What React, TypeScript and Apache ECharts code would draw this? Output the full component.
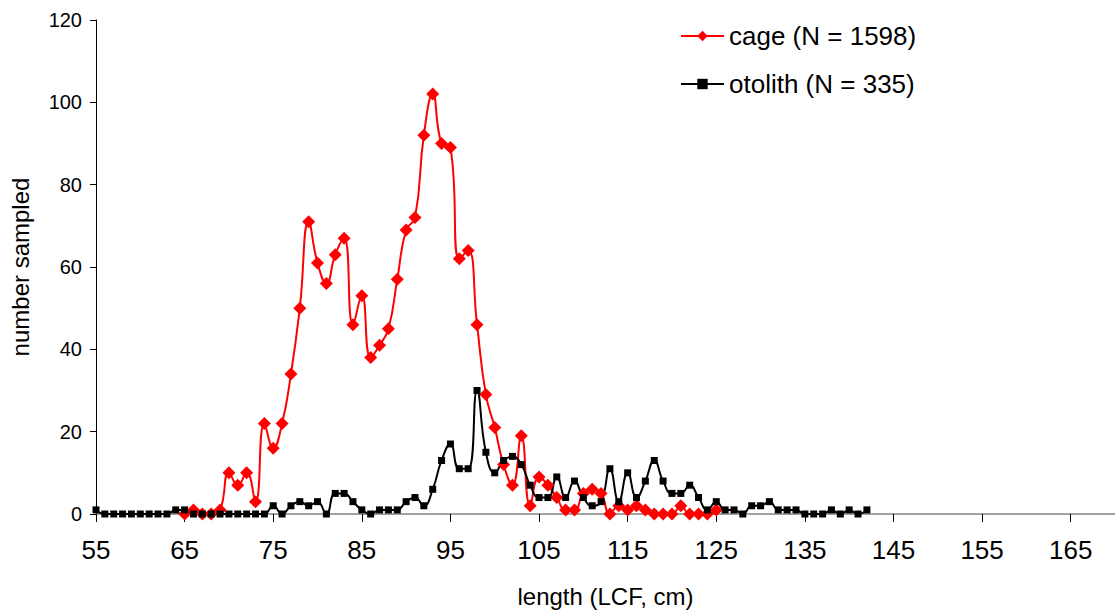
import React, { useEffect, useRef } from "react";
import * as echarts from "echarts";

// Length classes (LCF, cm) on the category axis
const categories: string[] = Array.from({ length: 116 }, (_, i) => String(55 + i));

// cage sample counts, lengths 65..125
const cageStart = 65;
const cageCounts = [
  0, 1, 0, 0, 1,
  10, 7, 10, 3, 22, 16, 22, 34, 50, 71,
  61, 56, 63, 67, 46, 53, 38, 41, 45, 57,
  69, 72, 92, 102, 90, 89, 62, 64, 46, 29,
  21, 12, 7, 19, 2, 9, 7, 4, 1, 1,
  5, 6, 5, 0, 2, 1, 2, 1, 0, 0,
  0, 2, 0, 0, 0, 1,
];

// otolith sample counts, lengths 55..142
const otolithStart = 55;
const otolithCounts = [
  1, 0, 0, 0, 0, 0, 0, 0, 0, 1,
  1, 0, 0, 0, 0, 0, 0, 0, 0, 0,
  2, 0, 2, 3, 2, 3, 0, 5, 5, 3,
  1, 0, 1, 1, 1, 3, 4, 2, 6, 13,
  17, 11, 11, 30, 15, 10, 13, 14, 12, 7,
  4, 4, 9, 4, 8, 4, 2, 3, 11, 3,
  10, 4, 8, 13, 8, 5, 5, 7, 4, 1,
  3, 1, 1, 0, 2, 2, 3, 1, 1, 1,
  0, 0, 0, 1, 0, 1, 0, 1,
];

const cageName = "cage (N = 1598)";
const otolithName = "otolith (N = 335)";
const yTicks = { min: 0, max: 120, step: 20 };

const FONT = "'Liberation Sans', Arial, Helvetica, sans-serif";

export default function App() {
  const ref = useRef<HTMLDivElement>(null);

  useEffect(() => {
    if (!ref.current) return;
    const chart = echarts.init(ref.current, undefined, { renderer: "svg" });

    const cageData = cageCounts.map((v, i) => [String(cageStart + i), v]);
    const otolithData = otolithCounts.map((v, i) => [String(otolithStart + i), v]);

    chart.setOption({
      animation: false,
      backgroundColor: "#ffffff",
      textStyle: { fontFamily: FONT, color: "#000" },
      grid: { left: 96, right: -2, top: 20, bottom: 101, containLabel: false },
      legend: {
        orient: "vertical",
        left: 680,
        top: 22,
        padding: 0,
        itemWidth: 43,
        itemHeight: 13,
        itemGap: 20,
        textStyle: { fontSize: 26, color: "#000", fontFamily: FONT, lineHeight: 28 },
        data: [cageName, otolithName],
      },
      xAxis: {
        type: "category",
        data: categories,
        boundaryGap: false,
        axisLine: { show: true, lineStyle: { color: "#808080", width: 1.5 } },
        axisTick: { show: true, interval: 9, length: 8, lineStyle: { color: "#000", width: 1 } },
        axisLabel: { interval: 9, fontSize: 26, color: "#000", margin: 23, fontFamily: FONT },
        splitLine: { show: false },
        name: "length (LCF, cm)",
        nameLocation: "middle",
        nameGap: 70,
        nameTextStyle: { fontSize: 24, color: "#000", fontFamily: FONT },
      },
      yAxis: {
        type: "value",
        min: yTicks.min,
        max: yTicks.max,
        interval: yTicks.step,
        axisLine: { show: true, lineStyle: { color: "#000", width: 1 } },
        axisTick: { show: true, length: 6, lineStyle: { color: "#000" } },
        axisLabel: { fontSize: 20, color: "#000", margin: 14, fontFamily: FONT },
        splitLine: { show: false },
        name: "number sampled",
        nameLocation: "middle",
        nameRotate: 90,
        nameGap: 64,
        nameTextStyle: { fontSize: 24, color: "#000", fontFamily: FONT },
      },
      series: [
        {
          type: "line",
          name: cageName,
          data: cageData,
          smooth: 0.5,
          symbol: "diamond",
          symbolSize: 13,
          showSymbol: true,
          showAllSymbol: true,
          itemStyle: { color: "#ff0000" },
          lineStyle: { color: "#ff0000", width: 2 },
        },
        {
          type: "line",
          name: otolithName,
          data: otolithData,
          smooth: 0.5,
          symbol: "rect",
          symbolSize: 7,
          showSymbol: true,
          showAllSymbol: true,
          itemStyle: { color: "#000" },
          lineStyle: { color: "#000", width: 2 },
        },
      ],
    });

    return () => chart.dispose();
  }, []);

  return (
    <div
      ref={ref}
      style={{ position: "fixed", left: 0, top: 0, width: 1115, height: 615, background: "#fff" }}
    />
  );
}
